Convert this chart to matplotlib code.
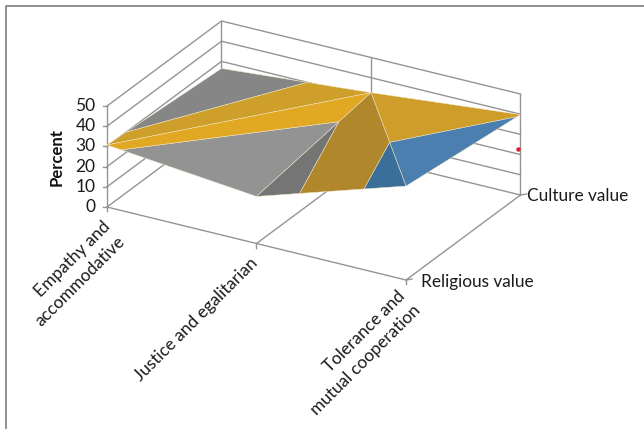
import matplotlib
matplotlib.use("Agg")
import matplotlib.pyplot as plt
from matplotlib.patches import Polygon

plt.rcParams['font.family'] = ['Lato', 'DejaVu Sans']

categories = ["Empathy and\naccommodative", "Justice and egalitarian", "Tolerance and\nmutual cooperation"]
series_names = ["Religious value", "Culture value"]
religious = [30.7, 23.3, 46.5]
culture = [26.5, 32.6, 39.8]
z_ticks = [0, 10, 20, 30, 40, 50]
z_label = "Percent"
bands = [(0, 30), (30, 40), (40, 50)]

# Facet colours per (facet, band)
facet_colors = {
    "left_low":  ["#939393", "#e0a823", "#4a7fb0"],
    "left_up":   ["#868686", "#cf9f2b", "#4a7fb0"],
    "right_low": ["#757575", "#b0882b", "#3a6f9a"],
    "right_up":  ["#868686", "#cf9e2a", "#4a7fb0"],
}

# projection: category index, series index, value -> figure pixels
O = (107.0, 207.0)
DX = (149.5, 36.5)
DY = (114.5, -85.0)
DZ = -2.02


def proj(i, j, z):
    return (O[0] + i * DX[0] + j * DY[0], O[1] + i * DX[1] + j * DY[1] + z * DZ)


fig = plt.figure(figsize=(6.44, 4.29), dpi=100)
ax = fig.add_axes([0, 0, 1, 1])
ax.set_xlim(0, 644)
ax.set_ylim(429, 0)
ax.axis("off")

# outer frame: only the left and top edges are in the picture
ax.plot([6.5, 6.5, 644], [429, 5.8, 5.8], color="#7d7d7d", lw=1.2, zorder=1)

GRID = "#949494"
for z in z_ticks:
    a, b, c = proj(0, 0, z), proj(0, 1, z), proj(2, 1, z)
    ax.plot([a[0], b[0], c[0]], [a[1], b[1], c[1]], color=GRID, lw=1.0, zorder=2)
    t = proj(0, 0, z)
    ax.plot([t[0] - 4, t[0]], [t[1], t[1]], color=GRID, lw=1.0, zorder=2)
    ax.text(t[0] - 11.5, t[1], str(z), ha="right", va="center", fontsize=12.5, color="#1a1a1a")

# walls' verticals
for i, j in [(0, 0), (0, 1), (1, 1), (2, 1)]:
    a, b = proj(i, j, 0), proj(i, j, z_ticks[-1])
    ax.plot([a[0], b[0]], [a[1], b[1]], color=GRID, lw=1.0, zorder=2)

# floor lines
for p, q in [((0, 0), (2, 0)), ((2, 0), (2, 1)), ((1, 0), (1, 1))]:
    a, b = proj(p[0], p[1], 0), proj(q[0], q[1], 0)
    ax.plot([a[0], b[0]], [a[1], b[1]], color=GRID, lw=1.0, zorder=2)
for i in range(3):
    a = proj(i, 0, 0)
    ax.plot([a[0], a[0]], [a[1], a[1] + 4], color=GRID, lw=1.0, zorder=2)
for j in (0, 1):
    a = proj(2, j, 0)
    ax.plot([a[0], a[0] + 6], [a[1], a[1] - 1], color=GRID, lw=1.0, zorder=2)


def clip(poly, lo, hi):
    """Clip a triangle given as (i, j, z) vertices to lo <= z <= hi."""
    def one(pts, keep, level):
        out = []
        for k, p in enumerate(pts):
            q = pts[(k + 1) % len(pts)]
            if keep(p[2]):
                out.append(p)
            if keep(p[2]) != keep(q[2]):
                t = (level - p[2]) / (q[2] - p[2])
                out.append((p[0] + t * (q[0] - p[0]), p[1] + t * (q[1] - p[1]), level))
        return out
    pts = one(poly, lambda v: v >= lo, lo)
    if pts:
        pts = one(pts, lambda v: v <= hi, hi)
    return pts


A, B, E = (0, 0, religious[0]), (1, 0, religious[1]), (2, 0, religious[2])
D, C, F = (0, 1, culture[0]), (1, 1, culture[1]), (2, 1, culture[2])
facets = [("left_up", [A, C, D]), ("right_up", [E, F, C]), ("left_low", [A, B, C]), ("right_low", [B, E, C])]
for name, tri in facets:
    for (lo, hi), col in zip(bands, facet_colors[name]):
        pts = clip(tri, lo, hi)
        if len(pts) >= 3:
            ax.add_patch(Polygon([proj(*p) for p in pts], closed=True, facecolor=col,
                                 edgecolor="#f1e6c8", linewidth=0.35, zorder=3))

# text
ax.text(57, 157, z_label, rotation=90, ha="center", va="center", fontsize=12, fontweight="bold", color="#111111")
ax.text(527, 196, series_names[1], ha="left", va="center", fontsize=12.4, color="#1a1a1a")
ax.text(421, 282, series_names[0], ha="left", va="center", fontsize=12.4, color="#1a1a1a")
# (x, y) of the centre of each rotated label block
centres = [(73, 274), (196, 319), (358, 353)]
for (x, y), lab in zip(centres, categories):
    ax.text(x, y, lab, rotation=45, rotation_mode="default", ha="center", va="center",
            fontsize=12.4, color="#1a1a1a", linespacing=1.4, multialignment="right")

# stray mark in the reference
ax.plot([518], [149], "o", ms=2.2, color="#e0202a", zorder=5)

fig.savefig("out.png", dpi=100)
